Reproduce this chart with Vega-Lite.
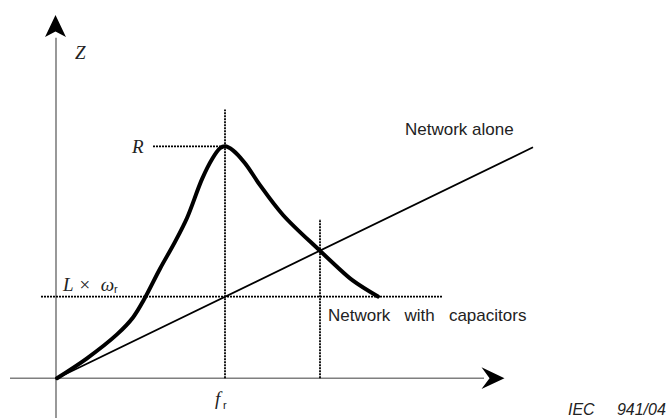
{
  "$schema": "https://vega.github.io/schema/vega-lite/v6.json",
  "width": 671,
  "height": 419,
  "padding": 0,
  "autosize": {"type": "fit", "contains": "padding"},
  "config": {"view": {"stroke": null}},
  "datasets": {
    "axes": [
      {"x": -1, "y": -40, "x2": -1, "y2": 342},
      {"x": -47, "y": 0, "x2": 427, "y2": 0}
    ],
    "upArrow": [{"x": -1.5, "y": 354}],
    "rightArrow": [{"x": 436, "y": 0}],
    "guides": [
      {"x": 96, "y": 233, "x2": 168, "y2": 233},
      {"x": 168, "y": 0, "x2": 168, "y2": 270},
      {"x": -16, "y": 82, "x2": 386, "y2": 82},
      {"x": 263, "y": 0, "x2": 263, "y2": 160}
    ],
    "alone": [{"x": 0, "y": 0}, {"x": 476, "y": 232}],
    "curve": [
      {"x": 0, "y": 0}, {"x": 30, "y": 20}, {"x": 60, "y": 44}, {"x": 76, "y": 61},
      {"x": 87, "y": 79}, {"x": 103, "y": 110}, {"x": 118, "y": 137}, {"x": 130, "y": 161},
      {"x": 145, "y": 200}, {"x": 155, "y": 220}, {"x": 163, "y": 231}, {"x": 168, "y": 233},
      {"x": 176, "y": 229}, {"x": 188, "y": 216}, {"x": 203, "y": 194}, {"x": 226, "y": 164},
      {"x": 263, "y": 128}, {"x": 280, "y": 112}, {"x": 296, "y": 98}, {"x": 321, "y": 82}
    ],
    "math": [
      {"x": 18, "y": 321, "label": "Z"},
      {"x": 75, "y": 226, "label": "R"},
      {"x": 6, "y": 88, "label": "L\u00a0×\u00a0\u00a0ω"},
      {"x": 158, "y": -27, "label": "f"}
    ],
    "subs": [
      {"x": 57, "y": 86, "label": "r"},
      {"x": 166, "y": -31, "label": "r"}
    ],
    "notes": [
      {"x": 348, "y": 244, "label": "Network alone"},
      {"x": 271, "y": 57, "label": "Network\u00a0\u00a0\u00a0with\u00a0\u00a0\u00a0capacitors"}
    ],
    "credit": [{"x": 511, "y": -37, "label": "IEC\u00a0\u00a0\u00a0\u00a0\u00a0941/04"}]
  },
  "encoding": {
    "x": {"field": "x", "type": "quantitative", "scale": {"domain": [-57, 614], "nice": false, "zero": false}, "axis": null},
    "y": {"field": "y", "type": "quantitative", "scale": {"domain": [-39, 380], "nice": false, "zero": false}, "axis": null}
  },
  "layer": [
    {
      "data": {"name": "axes"},
      "mark": {"type": "rule", "color": "#7f7f7f", "strokeWidth": 1.6},
      "encoding": {"x2": {"field": "x2"}, "y2": {"field": "y2"}}
    },
    {
      "data": {"name": "upArrow"},
      "mark": {"type": "point", "shape": "M0,-1L0.95,1L0,0.5L-0.95,1Z", "size": 484, "filled": true, "color": "#000", "opacity": 1}
    },
    {
      "data": {"name": "rightArrow"},
      "mark": {"type": "point", "shape": "M1,0L-1,-0.95L-0.3,0L-1,0.95Z", "size": 529, "filled": true, "color": "#000", "opacity": 1}
    },
    {
      "data": {"name": "guides"},
      "mark": {"type": "rule", "color": "#000", "strokeWidth": 1.8, "strokeDash": [2, 1]},
      "encoding": {"x2": {"field": "x2"}, "y2": {"field": "y2"}}
    },
    {
      "data": {"name": "alone"},
      "mark": {"type": "line", "color": "#000", "strokeWidth": 1.8}
    },
    {
      "data": {"name": "curve"},
      "mark": {"type": "line", "color": "#000", "strokeWidth": 4, "interpolate": "catmull-rom", "strokeCap": "round", "strokeJoin": "round"}
    },
    {
      "data": {"name": "math"},
      "mark": {"type": "text", "font": "Liberation Serif", "fontStyle": "italic", "fontSize": 19, "align": "left", "baseline": "alphabetic", "color": "#222"},
      "encoding": {"text": {"field": "label"}}
    },
    {
      "data": {"name": "subs"},
      "mark": {"type": "text", "font": "Liberation Sans", "fontSize": 11, "align": "left", "baseline": "alphabetic", "color": "#222"},
      "encoding": {"text": {"field": "label"}}
    },
    {
      "data": {"name": "notes"},
      "mark": {"type": "text", "font": "Liberation Sans", "fontSize": 17, "align": "left", "baseline": "alphabetic", "color": "#222"},
      "encoding": {"text": {"field": "label"}}
    },
    {
      "data": {"name": "credit"},
      "mark": {"type": "text", "font": "Liberation Sans", "fontStyle": "italic", "fontSize": 16, "align": "left", "baseline": "alphabetic", "color": "#222"},
      "encoding": {"text": {"field": "label"}}
    }
  ]
}
